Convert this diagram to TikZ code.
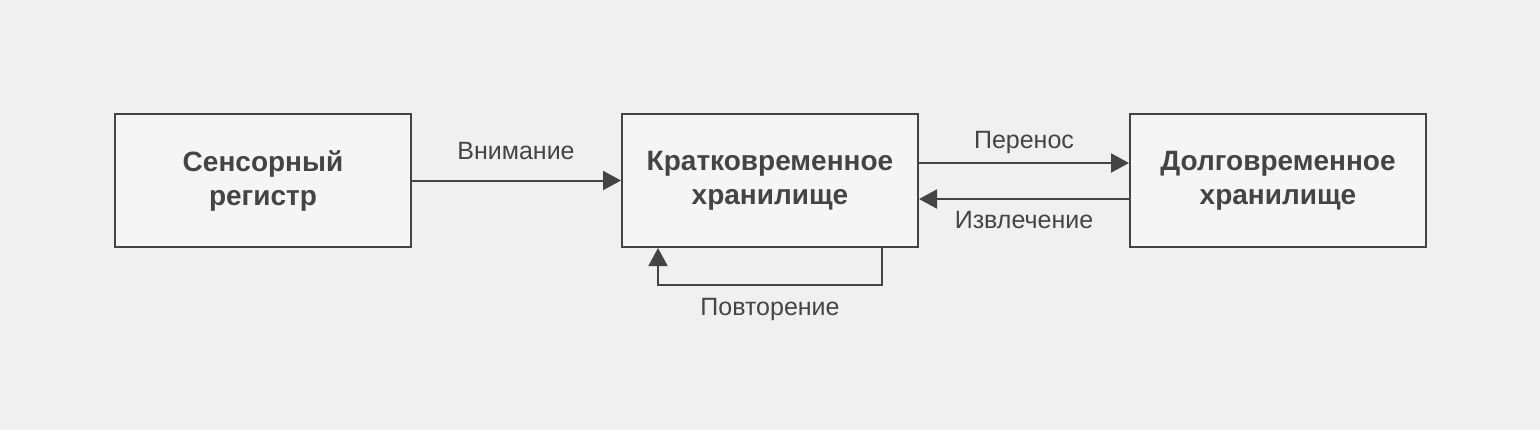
\documentclass[tikz,border=0pt]{standalone}
\usepackage{fontspec}
\setmainfont{Liberation Sans}
\usetikzlibrary{arrows.meta}
\definecolor{ink}{HTML}{444444}
\definecolor{bg}{HTML}{F0F0F0}
\definecolor{boxfill}{HTML}{F5F5F5}
\tikzset{
  box/.style={draw=ink, fill=boxfill, line width=1pt, minimum width=148pt, minimum height=66.5pt,
    inner sep=0pt, align=center, text=ink, font=\bfseries\fontsize{14}{17}\selectfont},
  lbl/.style={text=ink, font=\fontsize{12.5}{15}\selectfont},
  arr/.style={draw=ink, line width=1pt, -{Triangle[length=9pt,width=9.5pt]}}
}
\begin{document}
\begin{tikzpicture}[x=0.5pt,y=-0.5pt]
            \fill[bg] (0,0) rectangle (1540,430);
            \useasboundingbox (0,0) rectangle (1540,430);
            \node[box] (sens) at (263,180.5) {Сенсорный\\регистр};
            \node[box] (kratk) at (770,180.5) {Кратковременное\\хранилище};
            \node[box] (dolg) at (1278,180.5) {Долговременное\\хранилище};
            \draw[arr] (sens.east) -- (kratk.west);
            \draw[arr] ([yshift=8.75pt]kratk.east) -- ([yshift=8.75pt]dolg.west);
            \draw[arr] ([yshift=-9.25pt]dolg.west) -- ([yshift=-9.25pt]kratk.east);
            \draw[arr] ([xshift=56pt]kratk.south) -- ++(0,37) -| ([xshift=-56pt]kratk.south);
            \node[lbl] (vnim) at (516,151) {Внимание};
            \node[lbl] (pern) at (1024,142) {Перенос};
            \node[lbl] (izvl) at (1024,220) {Извлечение};
            \node[lbl] (povt) at (770,309) {Повторение};
        \end{tikzpicture}
\end{document}
